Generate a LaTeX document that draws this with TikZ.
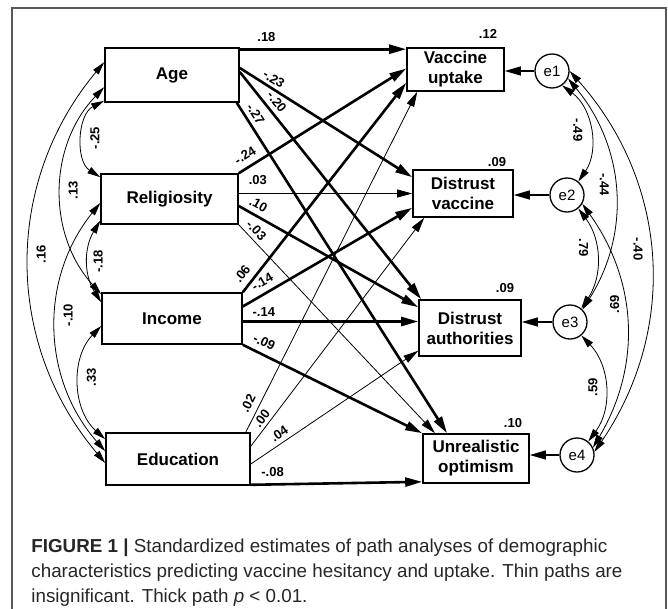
\documentclass[tikz,border=0pt]{standalone}
\usepackage{fontspec}
\setmainfont{Liberation Sans}
\usetikzlibrary{positioning, arrows.meta}

\tikzset{
every picture/.style={
line width=0.8pt
}}

\begin{document}
\begin{tikzpicture}[x=1pt, y=-1pt,
var/.style = {rectangle, draw=black, line width=1.6pt, align=center, inner sep=2pt,
  font=\fontsize{17}{20}\selectfont\bfseries},
err/.style = {circle, draw=black, line width=1.3pt, minimum size=34pt, inner sep=0pt,
  font=\fontsize{15}{16}\selectfont},
coef/.style = {font=\fontsize{13}{14}\selectfont\bfseries, inner sep=2pt},
sig/.style = {line width=2.6pt, -{Triangle[length=17pt,width=9pt]}},
nsig/.style = {line width=0.8pt, -{Triangle[length=15pt,width=8pt]}},
res/.style = {line width=1.2pt, -{Triangle[length=16pt,width=9pt]}},
cov/.style = {line width=0.8pt, {Triangle[length=13pt,width=7pt]}-{Triangle[length=13pt,width=7pt]}},
caption/.style = {align=left, inner sep=0pt, text=black!85,
  font=\fontsize{18.8}{25}\selectfont}
]

\useasboundingbox (0,0) rectangle (668,608);
\draw[black!65, line width=1.3pt] (12,612) -- (12,8) -- (666,8) -- (666,612);

% predictors
\node[var, minimum width=134pt, minimum height=54pt] (age) at (172,75) {Age};
\node[var, minimum width=137pt, minimum height=50pt] (relig) at (169.5,199) {Religiosity};
\node[var, minimum width=140pt, minimum height=51pt] (income) at (172,318.5) {Income};
\node[var, minimum width=144pt, minimum height=52pt] (educ) at (178,459) {Education};

% outcomes
\node[var, minimum width=97pt, minimum height=43pt] (vacc_up) at (455.5,69.5) {Vaccine\\uptake};
\node[var, minimum width=100pt, minimum height=47pt] (dist_vac) at (463,193.5) {Distrust\\vaccine};
\node[var, minimum width=102pt, minimum height=56pt] (dist_auth) at (470,328) {Distrust\\authorities};
\node[var, minimum width=106pt, minimum height=49pt] (unreal_opt) at (476,458.5) {Unrealistic\\optimism};

\node[coef] (r2_up) at (488,33.5) {.12};
\node[coef] (r2_vac) at (497,161.7) {.09};
\node[coef] (r2_auth) at (505,288) {.09};
\node[coef] (r2_opt) at (513,423) {.10};

% residuals
\node[err] (e1) at (552,71) {e1};
\node[err] (e2) at (567,195) {e2};
\node[err] (e3) at (570,322) {e3};
\node[err] (e4) at (577,455) {e4};

\draw[res] (e1) -- (e1 -| vacc_up.east);
\draw[res] (e2) -- (e2 -| dist_vac.east);
\draw[res] (e3) -- (e3 -| dist_auth.east);
\draw[res] (e4) -- (e4 -| unreal_opt.east);

% paths from Age
\draw[sig] ([yshift=-2pt]age.north east) -- ([yshift=-2pt]vacc_up.north west)
  node[coef, pos=0.16, above=4.5pt] {.18};
\draw[sig] ([yshift=7pt]age.east) -- ([yshift=-8pt]dist_vac.north west)
  node[coef, sloped, pos=0.17, above=1pt] {-.23};
\draw[sig] ([yshift=3pt]age.east) -- ([xshift=3pt]dist_auth.north west)
  node[coef, sloped, pos=0.16, above=2.5pt] {-.20};
\draw[sig] ([xshift=-3pt]age.south east) -- ([xshift=-29pt]unreal_opt.north)
  node[coef, sloped, pos=0.05, above=2pt] {-.27};

% paths from Religiosity
\draw[sig] (relig.north east) -- ([yshift=1pt]vacc_up.west)
  node[coef, sloped, pos=0.075, above=4pt] {-.24};
\draw[nsig] (relig.east |- dist_vac.west) -- (dist_vac.west)
  node[coef, pos=0.11, above=6pt] {.03};
\draw[sig] ([yshift=-7pt]relig.east) -- ([yshift=-8pt]dist_auth.north west)
  node[coef, sloped, pos=0.08, above=3pt] {.10};
\draw[nsig] (relig.south east) -- ([xshift=-41pt]unreal_opt.north)
  node[coef, sloped, pos=0.056, above=2pt] {-.03};

% paths from Income
\draw[sig] (income.north east) -- ([yshift=9pt]vacc_up.south west)
  node[coef, sloped, pos=0.053, above=4pt] {.06};
\draw[sig] ([yshift=12pt]income.east) -- ([yshift=10pt]dist_vac.south west)
  node[coef, sloped, pos=0.15, above=4pt] {-.14};
\draw[sig] ([yshift=-3pt]income.east) -- ([yshift=-3pt]income.east -| dist_auth.west)
  node[coef, pos=0.12, above=2pt] {-.14};
\draw[sig] (income.south east) -- (unreal_opt.north west)
  node[coef, sloped, pos=0.09, above=4pt] {-.09};

% paths from Education
\draw[nsig] ([xshift=-5pt]educ.north east) -- ([xshift=11pt]vacc_up.south west)
  node[coef, sloped, pos=0.07, above=4pt] {.02};
\draw[nsig] ([yshift=-14pt]educ.north east) -- ([xshift=12pt]dist_vac.south west)
  node[coef, sloped, pos=0.1, above=1pt] {.00};
\draw[nsig] ([yshift=-5pt]educ.east) -- ([yshift=6pt]dist_auth.south west)
  node[coef, sloped, pos=0.2, above=2pt] {.04};
\draw[sig] ([yshift=1pt]educ.south east) -- ([yshift=2pt]unreal_opt.south west)
  node[coef, pos=0.127, above=5pt] {-.08};

% covariances of predictors
\draw[cov] ([yshift=-15pt]age.north west) to[bend right=40]
  node[coef, pos=0.48, xshift=12pt, rotate=90] {.16} ([yshift=-4pt]educ.west);
\draw[cov] ([yshift=-40pt]age.north west) to[bend right=43]
  node[coef, midway, xshift=12pt, rotate=90] {.13} ([yshift=-2pt]income.north west);
\draw[cov] ([yshift=2pt]age.south west) to[bend right=60]
  node[coef, midway, xshift=12pt, rotate=90] {-.25} ([yshift=-4pt]relig.north west);
\draw[cov] ([yshift=4pt]relig.south west) to[bend right=32]
  node[coef, midway, xshift=10pt, rotate=90] {-.18} ([yshift=-10pt]income.north west);
\draw[cov] ([yshift=-4pt]relig.west) to[bend right=40]
  node[coef, pos=0.45, xshift=12pt, rotate=90] {-.10} ([yshift=-19pt]educ.north west);
\draw[cov] ([yshift=-7.5pt]income.west) to[bend right=46]
  node[coef, pos=0.45, xshift=12pt, rotate=90] {.33} ([yshift=-7pt]educ.north west);

% covariances of residuals
\draw[cov] (e1.-55) to[bend left=44]
  node[coef, midway, xshift=-12pt, rotate=-90] {-.49} (e2.50);
\draw[cov] (e1.-25) to[bend left=36]
  node[coef, pos=0.47, xshift=-10pt, rotate=-90] {-.44} (e3.45);
\draw[cov] (e1.0) to[bend left=38]
  node[coef, pos=0.48, xshift=-12pt, rotate=-90] {-.40} (e4.10);
\draw[cov] (e2.-50) to[bend left=35]
  node[coef, pos=0.4, xshift=-12pt, rotate=-90] {.79} (e3.50);
\draw[cov] (e2.-30) to[bend left=33]
  node[coef, pos=0.42, xshift=-10pt, rotate=90] {.69} (e4.25);
\draw[cov] (e3.-50) to[bend left=40]
  node[coef, midway, xshift=-12pt, rotate=90] {.59} (e4.50);

\node[caption, anchor=north west] (cap) at (31,538)
  {\textbf{FIGURE 1 |} Standardized estimates of path analyses of demographic\\
   characteristics predicting vaccine hesitancy and uptake. Thin paths are\\
   insignificant. Thick path \textit{p} < 0.01.};

\end{tikzpicture}
\end{document}
